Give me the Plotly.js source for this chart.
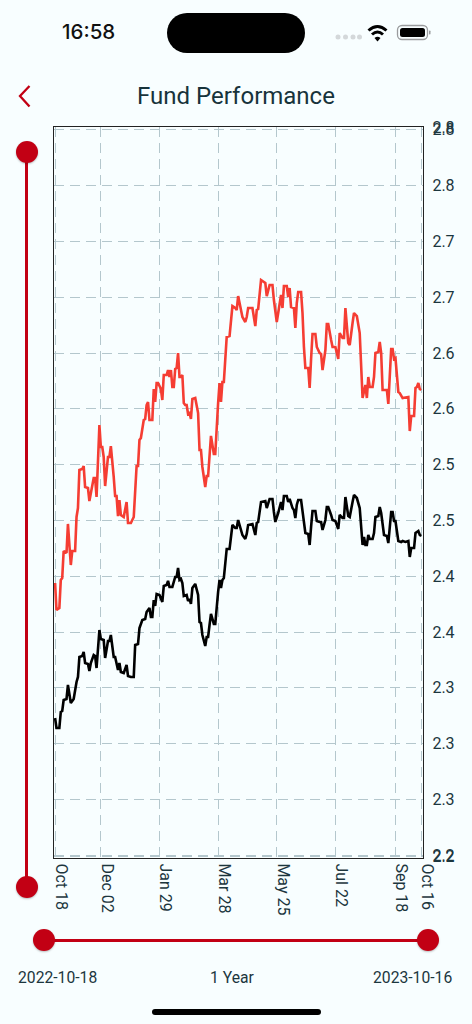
<!DOCTYPE html>
<html><head><meta charset="utf-8">
<script src="https://cdn.plot.ly/plotly-3.0.1.min.js"></script>
<style>
html,body{margin:0;padding:0;width:472px;height:1024px;overflow:hidden;background:#f8feff;font-family:Roboto,sans-serif;color:#1c363e}
#chart{position:absolute;left:0;top:0;width:472px;height:1024px}
.a{position:absolute}
.knob{position:absolute;width:22px;height:22px;border-radius:50%;background:#c20014;box-shadow:0 1px 2px rgba(0,0,0,.25)}
.lbl{position:absolute;font-size:15.7px;line-height:18px;top:969px;white-space:nowrap}
</style></head><body>
<div id="chart"></div>
<div class="a" style="left:62px;top:19px;font:500 20.5px/26px Inter,sans-serif;color:#111">16:58</div>
<div class="a" style="left:167px;top:13px;width:138px;height:40px;border-radius:20px;background:#000"></div>
<svg class="a" style="left:330px;top:15px" width="110" height="35" viewBox="0 0 110 35">
 <g fill="#d4d8da"><circle cx="8" cy="22" r="2.5"/><circle cx="15.500" cy="22" r="2.5"/><circle cx="23" cy="22" r="2.500"/><circle cx="29.500" cy="22" r="2.500"/></g>
 <g fill="none" stroke="#000" stroke-width="3"><path d="M38.500 15.500 Q47.500 7.500 56.500 15.500"/><path d="M42 19.500 Q47.500 14.500 53 19.500"/></g>
 <path d="M44.500 23 Q47.500 20.500 50.500 23 L47.500 26.500 Z" fill="#000"/>
 <rect x="67.500" y="10.500" width="30" height="14" rx="4.500" fill="none" stroke="#9a9c9e" stroke-width="1.300"/>
 <rect x="70" y="13" width="25" height="9" rx="2.500" fill="#000"/>
 <rect x="99" y="15.500" width="1.500" height="4" rx=".7" fill="#9a9c9e"/>
</svg>
<svg class="a" style="left:15px;top:82px" width="20" height="28"><path d="M14.500 4 L5 14 L14.500 24.500" fill="none" stroke="#c20014" stroke-width="2.300"/></svg>
<div class="a" style="left:25px;top:152px;width:3px;height:735px;background:#c20014"></div>
<div class="knob" style="left:15.500px;top:141px"></div>
<div class="knob" style="left:15.500px;top:876px"></div>
<div class="a" style="left:44px;top:938.500px;width:384px;height:3px;background:#c20014"></div>
<div class="knob" style="left:33px;top:929px"></div>
<div class="knob" style="left:417px;top:929px"></div>
<div class="lbl" style="left:18px">2022-10-18</div>
<div class="lbl" style="left:210px">1 Year</div>
<div class="lbl" style="left:373px">2023-10-16</div>
<div class="a" style="left:152px;top:1009px;width:169px;height:6px;border-radius:3px;background:#000"></div>
<script>
const xTickIndex=[0,32,73,114,155,196,238,256];
const xTickLabels=['Oct 18','Dec 02','Jan 29','Mar 28','May 25','Jul 22','Sep 18','Oct 16'];
const yTickValues=[2.203,2.204,2.252,2.300,2.348,2.396,2.444,2.492,2.540,2.588,2.636,2.684,2.732,2.780,2.828,2.8302];
const yTickLabels=['2.2','2.2','2.3','2.3','2.3','2.4','2.4','2.5','2.5','2.6','2.6','2.7','2.7','2.8','2.8','2.8'];
const redIndex=[0,1,3,4,5,6,8,9,11,12,14,15,16,17,19,20,21,23,24,25,27,28,29,31,32,33,34,35,37,38,39,41,42,43,44,45,46,48,50,51,53,55,56,57,58,59,60,62,63,64,65,66,68,69,70,71,72,74,75,76,78,79,80,81,82,83,84,85,86,87,88,89,90,91,92,93,94,95,96,98,100,101,102,103,105,106,107,108,109,111,112,114,115,116,117,118,119,120,122,124,126,127,128,130,131,133,134,135,138,140,141,142,143,144,147,148,150,152,153,155,156,158,159,160,162,163,164,165,167,168,169,170,172,173,174,175,177,178,179,180,182,183,185,186,187,189,190,191,193,194,196,198,199,201,202,203,205,206,208,209,211,213,215,217,218,219,220,222,223,224,226,227,228,229,232,233,235,236,237,238,240,241,243,247,248,249,251,252,253,254,255,256];
const redValues=[2.4382,2.415,2.4167,2.4408,2.4425,2.4657,2.464,2.489,2.4537,2.4657,2.4657,2.495,2.5027,2.5354,2.5363,2.5388,2.5208,2.5199,2.5087,2.5165,2.5285,2.5285,2.5122,2.5741,2.5552,2.5552,2.5466,2.5216,2.5466,2.5466,2.556,2.5294,2.513,2.513,2.4958,2.5096,2.4967,2.495,2.5079,2.4898,2.4898,2.495,2.5242,2.5388,2.5388,2.5612,2.5629,2.5784,2.5793,2.5913,2.5939,2.5784,2.5784,2.6051,2.5939,2.6102,2.6102,2.6051,2.5956,2.6171,2.6171,2.6214,2.6154,2.6214,2.6068,2.6068,2.6223,2.6231,2.636,2.6154,2.6154,2.6171,2.593,2.5913,2.5913,2.5836,2.5844,2.5793,2.5965,2.5973,2.5844,2.5526,2.5526,2.538,2.5208,2.5302,2.5302,2.5466,2.5647,2.5492,2.5492,2.593,2.6102,2.5939,2.6111,2.6111,2.6343,2.6498,2.6506,2.6764,2.6747,2.673,2.685,2.6713,2.667,2.6627,2.667,2.6747,2.6747,2.6592,2.673,2.6739,2.6876,2.6988,2.6962,2.685,2.6945,2.6945,2.6816,2.6627,2.6704,2.6859,2.6747,2.6936,2.6936,2.6842,2.6919,2.6756,2.6747,2.6575,2.679,2.6885,2.6885,2.6704,2.6412,2.6231,2.6231,2.6059,2.6309,2.6524,2.6524,2.6412,2.636,2.6352,2.6214,2.6386,2.661,2.661,2.6472,2.6412,2.6412,2.6309,2.6532,2.6489,2.6489,2.6747,2.6446,2.6429,2.6618,2.6704,2.6678,2.6532,2.5973,2.6085,2.5973,2.6154,2.6068,2.6068,2.6154,2.636,2.6369,2.6455,2.636,2.6042,2.6042,2.5922,2.6395,2.6395,2.6309,2.6317,2.6025,2.6016,2.5973,2.5982,2.5689,2.5818,2.5818,2.6059,2.6068,2.6102,2.6051,2.6042];
const blackIndex=[0,1,3,4,5,6,8,9,11,13,15,16,17,19,20,21,23,24,25,27,28,29,31,32,34,35,37,38,39,41,42,44,45,46,48,50,51,53,55,56,58,59,61,63,64,66,67,68,69,70,71,73,75,76,78,79,80,82,84,85,86,87,88,89,90,92,93,94,95,96,98,100,101,102,103,105,106,107,108,109,111,112,114,115,116,117,118,119,120,122,124,126,127,128,130,131,133,134,135,138,140,141,142,143,144,147,148,150,152,153,154,156,158,159,160,162,163,164,166,167,168,169,170,172,173,175,177,178,179,180,182,183,185,186,187,189,190,191,193,194,196,198,199,201,202,203,205,206,208,209,211,213,215,216,217,218,219,220,222,223,224,226,227,228,230,232,233,235,236,237,238,240,242,243,245,247,248,249,251,252,254,255,256];
const blackValues=[2.3221,2.3135,2.3135,2.3273,2.3281,2.3376,2.3385,2.3505,2.335,2.3385,2.3531,2.3574,2.3746,2.3754,2.3789,2.3694,2.3686,2.3625,2.3694,2.3763,2.3754,2.3651,2.3978,2.3901,2.3892,2.3737,2.3883,2.3883,2.3935,2.3746,2.3746,2.3634,2.3694,2.3617,2.3608,2.3677,2.3582,2.3574,2.3574,2.3849,2.3858,2.3995,2.4064,2.4073,2.4133,2.4167,2.409,2.409,2.4236,2.4185,2.4288,2.4279,2.4219,2.4356,2.4365,2.44,2.4348,2.4348,2.4434,2.4434,2.4511,2.4408,2.4417,2.4382,2.427,2.4279,2.4227,2.4245,2.4202,2.4339,2.4374,2.4279,2.4047,2.4038,2.3935,2.384,2.3918,2.3918,2.4021,2.4116,2.403,2.403,2.4305,2.4408,2.4339,2.4408,2.4425,2.4537,2.4675,2.4675,2.4881,2.4855,2.4855,2.4924,2.4821,2.4795,2.4761,2.4804,2.4881,2.489,2.4795,2.4898,2.4907,2.4984,2.5079,2.5087,2.5027,2.5105,2.5105,2.4993,2.4907,2.4984,2.5079,2.501,2.513,2.513,2.5079,2.5105,2.5027,2.501,2.4941,2.5053,2.5096,2.5096,2.501,2.4812,2.4804,2.4709,2.4864,2.5001,2.5001,2.4915,2.4907,2.4907,2.4838,2.4924,2.5036,2.5036,2.4967,2.4924,2.4915,2.4847,2.4967,2.4941,2.4941,2.5122,2.4958,2.495,2.5079,2.5139,2.5113,2.5027,2.4709,2.4778,2.4709,2.4709,2.4795,2.4761,2.4761,2.4812,2.495,2.4958,2.5036,2.4984,2.4795,2.4786,2.4726,2.4993,2.4993,2.4915,2.4915,2.4743,2.4735,2.4743,2.4735,2.4743,2.4606,2.4683,2.4683,2.4812,2.4829,2.4795,2.4786];
const traces=[
 {x:redIndex,y:redValues,type:'scatter',mode:'lines',name:'Fund',line:{color:'#f53d33',width:2.6}},
 {x:blackIndex,y:blackValues,type:'scatter',mode:'lines',name:'Benchmark',line:{color:'#000',width:2.6}}
];
const layout={
 width:472,height:1024,showlegend:false,
 paper_bgcolor:'rgba(0,0,0,0)',plot_bgcolor:'rgba(0,0,0,0)',
 margin:{l:53.5,r:48.7,t:127,b:166,pad:0},
 font:{family:'Roboto, sans-serif',color:'#1c363e',size:16},
 title:{text:'Fund Performance',font:{family:'Roboto, sans-serif',size:24,color:'#17333b'},xref:'container',x:0.5,xanchor:'center',yref:'container',y:0.907,yanchor:'middle'},
 xaxis:{range:[-0.75,257.25],tickmode:'array',tickvals:xTickIndex,ticktext:xTickLabels,tickangle:90,ticklabelshift:6,ticklen:0,ticklabelstandoff:1,
  showgrid:true,gridcolor:'#b4c7cd',griddash:'10px,6px',gridwidth:1,showline:true,mirror:true,linecolor:'#222',linewidth:1.2,zeroline:false,tickfont:{size:16}},
 yaxis:{range:[2.2017,2.8304],side:'right',tickmode:'array',tickvals:yTickValues,ticktext:yTickLabels,ticklen:0,ticklabelstandoff:5,
  showgrid:true,gridcolor:'#b4c7cd',griddash:'10px,6px',gridwidth:1,showline:true,mirror:true,linecolor:'#222',linewidth:1.2,zeroline:false,tickfont:{size:16}}
};
Plotly.newPlot('chart',traces,layout,{staticPlot:true,displayModeBar:false});
</script>
</body></html>
